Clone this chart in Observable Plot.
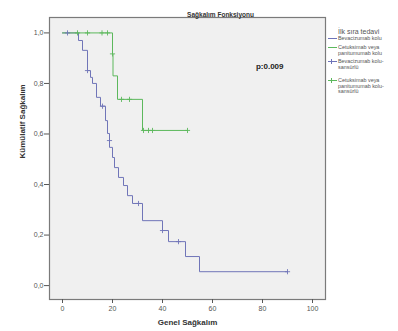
<!DOCTYPE html>
<html><head><meta charset="utf-8">
<script src="https://cdn.jsdelivr.net/npm/d3@7"></script>
<script src="https://cdn.jsdelivr.net/npm/@observablehq/plot@0.6"></script>
<style>
body{margin:0;background:#fff;font-family:"Liberation Sans",Arial,sans-serif;}
#wrap{position:relative;width:398px;height:331px;}
#legend{position:absolute;left:0;top:0;font-size:5.4px;color:#555;line-height:5.6px;white-space:nowrap;}
#legend div{position:absolute;left:338px;}
#legend .t{font-size:7px;line-height:8px;}
#legend .sym{position:absolute;left:-10px;top:2px;width:9px;height:1px;}
#legend .plus{position:absolute;left:-7px;top:0px;width:1px;height:5px;}
</style></head><body>
<div id="wrap"><div id="chart"></div>
<div id="legend">
<div class="t" style="top:28px">İlk sıra tedavi</div>
<div style="top:36px"><span class="sym" style="background:#6e73b8"></span>Bevacizumab kolu</div>
<div style="top:45px"><span class="sym" style="background:#5cb85c"></span>Cetuksimab veya<br>panitumumab kolu</div>
<div style="top:59px"><span class="sym" style="background:#6e73b8"></span><span class="plus" style="background:#6e73b8"></span>Bevacizumab kolu-<br>sansürlü</div>
<div style="top:78px"><span class="sym" style="background:#5cb85c"></span><span class="plus" style="background:#5cb85c"></span>Cetuksimab veya<br>panitumumab kolu-<br>sansürlü</div>
</div></div>
<script>
const groups = ["Bevacizumab kolu", "Cetuksimab veya panitumumab kolu"];
const blueTimes = [0, 6.4, 8, 10, 11.2, 12, 13.6, 15.2, 17.2, 18, 18.8, 20, 20.8, 22.4, 24.4, 26, 28, 32, 40, 42.4, 49.2, 54.8, 90];
const blueSurv  = [1, 0.970, 0.931, 0.851, 0.824, 0.800, 0.745, 0.710, 0.653, 0.602, 0.547, 0.507, 0.467, 0.428, 0.396, 0.356, 0.325, 0.257, 0.218, 0.174, 0.115, 0.055, 0.055];
const blueCensorT = [2, 10, 16, 18.8, 30.4, 40, 46.4, 90];
const blueCensorS = [1, 0.851, 0.710, 0.574, 0.325, 0.218, 0.174, 0.055];
const greenTimes = [0, 20, 20.2, 22, 32, 50];
const greenSurv  = [1, 0.917, 0.830, 0.737, 0.614, 0.614];
const greenCensorT = [6, 10, 15.8, 18, 20, 23.6, 26.8, 32.4, 34.4, 36, 50];
const greenCensorS = [1, 1, 1, 1, 0.917, 0.737, 0.737, 0.614, 0.614, 0.614, 0.614];
const xTicks = [0, 20, 40, 60, 80, 100];
const yTicks = [0, 0.2, 0.4, 0.6, 0.8, 1.0];
const colors = ["#7075b8", "#5cb85c"];

const steps = [
  ...blueTimes.map((t, i) => ({t, s: blueSurv[i], g: groups[0]})),
  ...greenTimes.map((t, i) => ({t, s: greenSurv[i], g: groups[1]}))
];
const censors = [
  ...blueCensorT.map((t, i) => ({t, s: blueCensorS[i], g: groups[0]})),
  ...greenCensorT.map((t, i) => ({t, s: greenCensorS[i], g: groups[1]}))
];

const chart = Plot.plot({
  width: 398, height: 331,
  marginLeft: 49, marginRight: 73, marginTop: 17, marginBottom: 32,
  style: {fontFamily: "Liberation Sans, Arial, sans-serif", fontSize: "7px", color: "#555", background: "#fff"},
  x: {domain: [-5.2, 105.2], ticks: xTicks},
  y: {domain: [-0.055, 1.061], ticks: yTicks},
  color: {domain: groups, range: colors},
  marks: [
    Plot.frame({fill: "#f0f0f0", stroke: "#7a7a7a", strokeWidth: 1.2}),
    Plot.axisX({ticks: xTicks, tickSize: 4, tickPadding: 3, label: null, stroke: "#555"}),
    Plot.axisY({ticks: yTicks, tickSize: 5, tickPadding: 1, label: null, tickFormat: d => d.toFixed(1).replace(".", ","), stroke: "#555"}),
    Plot.line(steps, {x: "t", y: "s", z: "g", stroke: "g", curve: "step-after", strokeWidth: 1}),
    Plot.dot(censors, {x: "t", y: "s", stroke: "g", symbol: "plus", r: 1.8, strokeWidth: 0.9}),
    Plot.text(["p:0.009"], {frameAnchor: "top-right", dx: -42, dy: 46, textAnchor: "end", fontWeight: "bold", fontSize: 8, fill: "#222"}),
    Plot.text(["Sağkalım Fonksiyonu"], {frameAnchor: "top", dx: 33, dy: -5, fontWeight: "bold", fontSize: 6.5, fill: "#333"}),
    Plot.text(["Genel Sağkalım"], {frameAnchor: "bottom", dy: 25, fontWeight: "bold", fontSize: 8, fill: "#333"}),
    Plot.text(["Kümülatif Sağkalım"], {frameAnchor: "left", dx: -27, rotate: -90, fontWeight: "bold", fontSize: 8, fill: "#333"})
  ]
});
document.getElementById("chart").appendChild(chart);
</script>
</body></html>
